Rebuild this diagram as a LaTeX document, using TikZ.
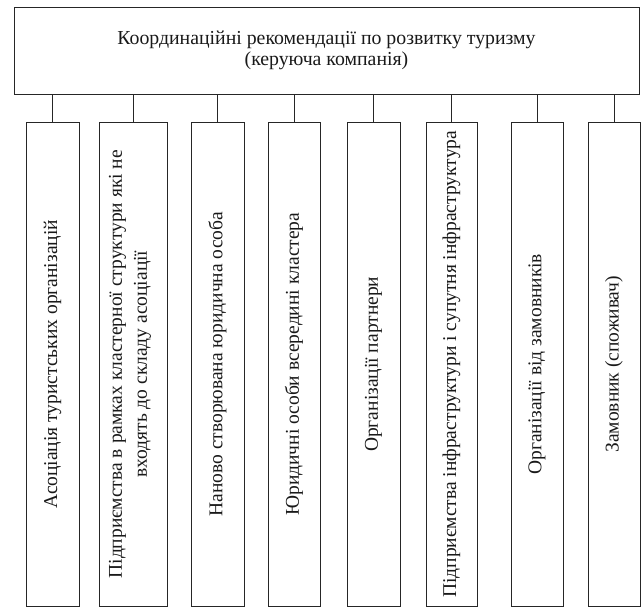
\documentclass[tikz,border=0pt]{standalone}
\usepackage{fontspec}
\setmainfont{Liberation Serif}
\usepackage{tikz}
\usetikzlibrary{calc}

\begin{document}
\begin{tikzpicture}[x=1pt, y=-1pt,
		box/.style={draw=black!85, line width=0.35mm, inner sep=0pt},
		member/.style={box, minimum width=53pt, minimum height=484.5pt},
		txt/.style={text=black!90, font=\fontsize{19.5}{21}\selectfont, align=center},
		link/.style={line width=0.35mm, color=black!85}]
		%%%%% START %%%%%
		\useasboundingbox (0, 0) rectangle (644, 608);
		
		\node[box, minimum width=625pt, minimum height=87pt] (head) at (326.5, 50.5) {};
		\node[txt, font=\fontsize{19.8}{21}\selectfont] (headtext) at (head) {Координаційні рекомендації по розвитку туризму\\(керуюча компанія)};
		
		\node[member] (asoc) at (52.5, 364.25) {};
		\node[txt, rotate=90] (asoctext) at (asoc) {Асоціація туристських організацій};
		\draw[link] (head.south -| asoc.north) -- (asoc.north);
		
		\node[member, minimum width=68pt] (pidpr) at (133, 364.25) {};
		\node[txt, rotate=90, font=\fontsize{19.5}{25}\selectfont] (pidprtext) at ($(pidpr)+(-3,0)$) {Підприємства в рамках кластерної структури які не\\входять до складу асоціації};
		\draw[link] (head.south -| pidpr.north) -- (pidpr.north);
		
		\node[member] (nanovo) at (217.5, 364.25) {};
		\node[txt, rotate=90] (nanovotext) at (nanovo) {Наново створювана юридична особа};
		\draw[link] (head.south -| nanovo.north) -- (nanovo.north);
		
		\node[member, minimum width=52pt] (yuryd) at (294, 364.25) {};
		\node[txt, rotate=90] (yurydtext) at (yuryd) {Юридичні особи всередині кластера};
		\draw[link] (head.south -| yuryd.north) -- (yuryd.north);
		
		\node[member] (partn) at (373.5, 364.25) {};
		\node[txt, rotate=90] (partntext) at (partn) {Організації партнери};
		\draw[link] (head.south -| partn.north) -- (partn.north);
		
		\node[member, minimum width=51pt] (infra) at (451.5, 364.25) {};
		\node[txt, rotate=90] (infratext) at (infra) {Підприємства інфраструктури і супутня інфраструктура};
		\draw[link] (head.south -| infra.north) -- (infra.north);
		
		\node[member, minimum width=52pt] (zamorg) at (537, 364.25) {};
		\node[txt, rotate=90] (zamorgtext) at (zamorg) {Організації від замовників};
		\draw[link] (head.south -| zamorg.north) -- (zamorg.north);
		
		\node[member, minimum width=52pt] (zamov) at (614, 364.25) {};
		\node[txt, rotate=90] (zamovtext) at (zamov) {Замовник (споживач)};
		\draw[link] (head.south -| zamov.north) -- (zamov.north);
		
		%%%%% END %%%%%
	\end{tikzpicture}
\end{document}
